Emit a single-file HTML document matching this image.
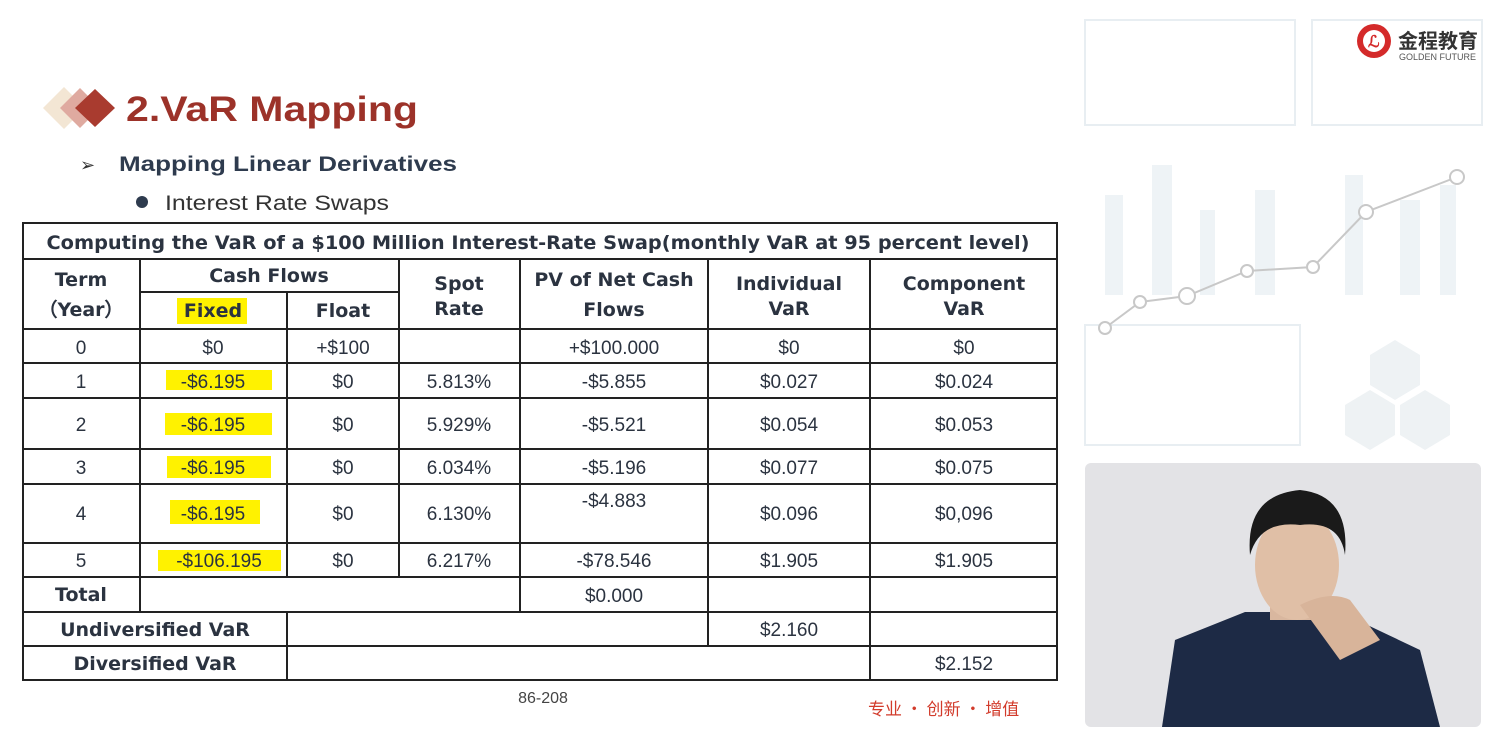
<!DOCTYPE html>
<html><head><meta charset="utf-8"><style>
html,body{margin:0;padding:0;background:#fff;}
svg{display:block;}
text{font-family:"Liberation Sans","Noto Sans CJK SC",sans-serif;fill:#2b3340;}
.h{font-weight:bold;font-size:19px;font-family:"DejaVu Sans","Liberation Sans",sans-serif;}
.c{font-size:19px;}
</style></head><body>
<svg width="1500" height="750" viewBox="0 0 1500 750" xmlns="http://www.w3.org/2000/svg">
<rect width="1500" height="750" fill="#fff"/>
<g stroke="#e8eef2" fill="none" stroke-width="2">
<rect x="1085" y="20" width="210" height="105"/>
<rect x="1312" y="20" width="170" height="105"/>
<rect x="1085" y="325" width="215" height="120"/>
</g>
<g fill="#eef3f6">
<rect x="1105" y="195" width="18" height="100"/><rect x="1152" y="165" width="20" height="130"/>
<rect x="1200" y="210" width="15" height="85"/><rect x="1255" y="190" width="20" height="105"/>
<rect x="1345" y="175" width="18" height="120"/><rect x="1400" y="200" width="20" height="95"/>
<rect x="1440" y="185" width="16" height="110"/>
</g>
<g fill="#eef2f4"><polygon points="1370,355 1395,340 1420,355 1420,385 1395,400 1370,385"/>
<polygon points="1400,405 1425,390 1450,405 1450,435 1425,450 1400,435"/>
<polygon points="1345,405 1370,390 1395,405 1395,435 1370,450 1345,435"/></g>
<polyline points="1105,328 1140,302 1187,296 1247,271 1313,267 1366,212 1457,177" fill="none" stroke="#c8c8c8" stroke-width="2"/>
<g fill="#fff" stroke="#c8c8c8" stroke-width="2">
<circle cx="1105" cy="328" r="6"/><circle cx="1140" cy="302" r="6"/><circle cx="1187" cy="296" r="8"/>
<circle cx="1247" cy="271" r="6"/><circle cx="1313" cy="267" r="6"/><circle cx="1366" cy="212" r="7"/><circle cx="1457" cy="177" r="7"/></g>
<circle cx="1374" cy="41" r="17" fill="#d42a2a"/><circle cx="1374" cy="41" r="11" fill="#fff"/>
<text x="1368" y="47" font-size="16" font-weight="bold" style="fill:#d42a2a">ℒ</text>
<text x="1398" y="48" font-size="20" font-weight="bold" style="fill:#333">金程教育</text>
<text x="1399" y="60" font-size="9" style="fill:#555">GOLDEN FUTURE</text>
<rect x="1085" y="463" width="396" height="264" rx="6" fill="#e3e3e6"/>
<path d="M1162,727 L1175,640 L1245,612 L1340,612 L1420,650 L1440,727 Z" fill="#1d2a45"/>
<rect x="1270" y="570" width="55" height="50" fill="#d9b79f"/>
<ellipse cx="1297" cy="565" rx="42" ry="55" fill="#e0bfa6"/>
<path d="M1250,555 Q1245,495 1300,490 Q1350,495 1345,555 Q1340,520 1300,525 Q1260,520 1250,555Z" fill="#1a1a1a"/>
<path d="M1300,605 Q1330,590 1350,600 L1380,640 L1340,660 Z" fill="#d8b49a"/>
<!-- title -->
<polygon points="43,108 64,87 85,108 64,129" fill="#f3e6d4"/>
<polygon points="60,108 80,88 100,108 80,128" fill="#dfaaa0"/>
<polygon points="75,108 95,89 115,108 95,127" fill="#a93b2f"/>
<text x="126" y="121" font-size="35" font-weight="bold" textLength="292" lengthAdjust="spacingAndGlyphs" style="fill:#9c3229">2.VaR Mapping</text>
<text x="80" y="171" font-size="18" style="fill:#333">➢</text>
<text x="119" y="171" font-size="21" font-weight="bold" textLength="338" lengthAdjust="spacingAndGlyphs" style="fill:#2e3b4e">Mapping Linear Derivatives</text>
<circle cx="142" cy="202" r="6" fill="#2e3b4e"/>
<text x="165" y="210" font-size="21" textLength="224" lengthAdjust="spacingAndGlyphs" style="fill:#333">Interest Rate Swaps</text>
<g fill="#fff200">
<rect x="177" y="298" width="70" height="26"/>
<rect x="166" y="370" width="106" height="20"/><rect x="165" y="413" width="107" height="22"/>
<rect x="167" y="456" width="104" height="22"/><rect x="170" y="500" width="90" height="24"/>
<rect x="158" y="550" width="123" height="21"/>
</g>
<g stroke="#222" stroke-width="2" fill="none">
<rect x="23" y="223" width="1034" height="457"/>
<line x1="23" y1="259" x2="1057" y2="259"/>
<line x1="140" y1="292" x2="399" y2="292"/>
<line x1="23" y1="329" x2="1057" y2="329"/>
<line x1="23" y1="363" x2="1057" y2="363"/>
<line x1="23" y1="398" x2="1057" y2="398"/>
<line x1="23" y1="449" x2="1057" y2="449"/>
<line x1="23" y1="484" x2="1057" y2="484"/>
<line x1="23" y1="543" x2="1057" y2="543"/>
<line x1="23" y1="577" x2="1057" y2="577"/>
<line x1="23" y1="612" x2="1057" y2="612"/>
<line x1="23" y1="646" x2="1057" y2="646"/>
<line x1="140" y1="259" x2="140" y2="612"/>
<line x1="287" y1="292" x2="287" y2="577"/>
<line x1="287" y1="612" x2="287" y2="680"/>
<line x1="399" y1="259" x2="399" y2="577"/>
<line x1="520" y1="259" x2="520" y2="612"/>
<line x1="708" y1="259" x2="708" y2="646"/>
<line x1="870" y1="259" x2="870" y2="680"/>
</g>
<g text-anchor="middle">
<text class="h" x="538" y="249" textLength="983" lengthAdjust="spacingAndGlyphs">Computing the VaR of a $100 Million Interest-Rate Swap(monthly VaR at 95 percent level)</text>
<text class="h" x="81" y="286">Term</text><text class="h" x="81" y="316">（Year）</text>
<text class="h" x="269" y="282">Cash Flows</text>
<text class="h" x="213" y="317">Fixed</text><text class="h" x="343" y="317">Float</text>
<text class="h" x="459" y="290">Spot</text><text class="h" x="459" y="315">Rate</text>
<text class="h" x="614" y="286">PV of Net Cash</text><text class="h" x="614" y="316">Flows</text>
<text class="h" x="789" y="290">Individual</text><text class="h" x="789" y="315">VaR</text>
<text class="h" x="964" y="290">Component</text><text class="h" x="964" y="315">VaR</text>

<text class="c" x="81" y="354">0</text><text class="c" x="213" y="354">$0</text><text class="c" x="343" y="354">+$100</text><text class="c" x="614" y="354">+$100.000</text><text class="c" x="789" y="354">$0</text><text class="c" x="964" y="354">$0</text>
<text class="c" x="81" y="388">1</text><text class="c" x="213" y="388">-$6.195</text><text class="c" x="343" y="388">$0</text><text class="c" x="459" y="388">5.813%</text><text class="c" x="614" y="388">-$5.855</text><text class="c" x="789" y="388">$0.027</text><text class="c" x="964" y="388">$0.024</text>
<text class="c" x="81" y="431">2</text><text class="c" x="213" y="431">-$6.195</text><text class="c" x="343" y="431">$0</text><text class="c" x="459" y="431">5.929%</text><text class="c" x="614" y="431">-$5.521</text><text class="c" x="789" y="431">$0.054</text><text class="c" x="964" y="431">$0.053</text>
<text class="c" x="81" y="474">3</text><text class="c" x="213" y="474">-$6.195</text><text class="c" x="343" y="474">$0</text><text class="c" x="459" y="474">6.034%</text><text class="c" x="614" y="474">-$5.196</text><text class="c" x="789" y="474">$0.077</text><text class="c" x="964" y="474">$0.075</text>
<text class="c" x="81" y="520">4</text><text class="c" x="213" y="520">-$6.195</text><text class="c" x="343" y="520">$0</text><text class="c" x="459" y="520">6.130%</text><text class="c" x="614" y="507">-$4.883</text><text class="c" x="789" y="520">$0.096</text><text class="c" x="964" y="520">$0,096</text>
<text class="c" x="81" y="567">5</text><text class="c" x="219" y="567">-$106.195</text><text class="c" x="343" y="567">$0</text><text class="c" x="459" y="567">6.217%</text><text class="c" x="614" y="567">-$78.546</text><text class="c" x="789" y="567">$1.905</text><text class="c" x="964" y="567">$1.905</text>
<text class="h" x="81" y="601">Total</text><text class="c" x="614" y="602">$0.000</text>
<text class="h" x="155" y="636">Undiversified VaR</text><text class="c" x="789" y="636">$2.160</text>
<text class="h" x="155" y="670">Diversified VaR</text><text class="c" x="964" y="670">$2.152</text>
<text x="543" y="703" font-size="16" style="fill:#444">86-208</text>
</g>
<text x="868" y="715" font-size="17" style="fill:#d23b2b;font-family:'Noto Sans CJK SC',sans-serif">专业 · 创新 · 增值</text>
</svg>
</body></html>
